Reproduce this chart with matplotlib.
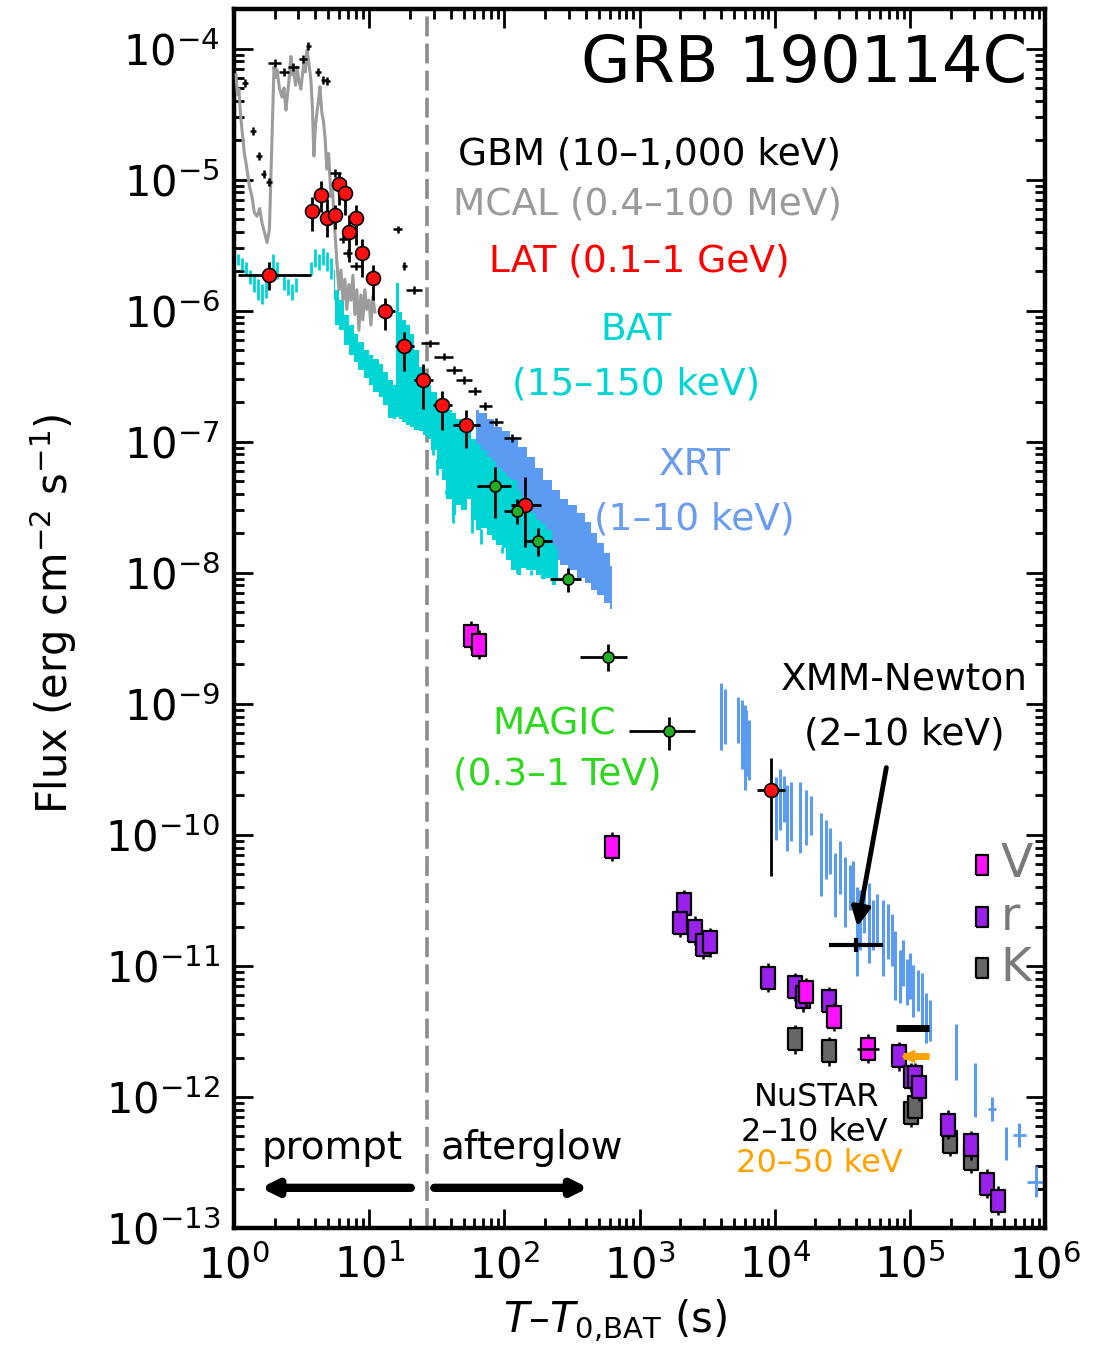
import numpy as np
import matplotlib.pyplot as plt
from matplotlib.ticker import LogLocator

# all values are log10(t / s) and log10(flux / erg cm^-2 s^-1)

# GBM (10-1000 keV)
gbm_lt = [0.08, 0.14, 0.185, 0.22, 0.26, 0.30, 0.37, 0.44, 0.51, 0.55, 0.62, 0.66, 0.69, 0.75,
          0.81, 0.84, 0.90, 1.21, 1.26, 1.33, 1.45, 1.55, 1.63, 1.70, 1.78, 1.86, 1.94, 2.06]
gbm_lf = [-4.26, -4.63, -4.82, -4.96, -5.02, -4.11, -4.18, -4.14, -4.08, -3.98, -4.18, -4.24, -4.25, -4.95,
          -5.45, -5.56, -5.66, -5.38, -5.66, -5.84, -6.25, -6.35, -6.45, -6.53, -6.61, -6.73, -6.85, -6.97]
gbm_dx = [0.02, 0.02, 0.025, 0.02, 0.02, 0.045, 0.04, 0.04, 0.03, 0.02, 0.02, 0.02, 0.02, 0.04,
          0.03, 0.03, 0.04, 0.03, 0.02, 0.06, 0.07, 0.07, 0.06, 0.06, 0.05, 0.05, 0.05, 0.06]

# MCAL (0.4-100 MeV)
mcal_lt = [0.015, 0.025, 0.037, 0.048, 0.059, 0.077, 0.096, 0.114, 0.133, 0.150, 0.170, 0.190, 0.207,
           0.225, 0.244, 0.262, 0.296, 0.307, 0.318, 0.336, 0.355, 0.370, 0.384, 0.396, 0.407,
           0.421, 0.432, 0.443, 0.455, 0.466, 0.480, 0.495, 0.506, 0.517, 0.528, 0.540, 0.555, 0.569,
           0.580, 0.591, 0.602, 0.613, 0.625, 0.636, 0.650, 0.661, 0.673, 0.687, 0.700,
           0.717, 0.728, 0.739, 0.750, 0.761, 0.776, 0.791, 0.806, 0.820, 0.835, 0.850, 0.865, 0.880,
           0.894, 0.909, 0.924, 0.939, 0.953, 0.968, 0.983, 0.998, 1.013, 1.027, 1.042]
mcal_lf = [-4.20, -4.35, -4.31, -4.50, -4.62, -4.80, -4.92, -5.05, -5.13, -5.25, -5.28, -5.22, -5.33,
           -5.40, -5.48, -5.38, -4.14, -4.22, -4.16, -4.30, -4.37, -4.30, -4.47, -4.35, -4.24,
           -4.06, -4.20, -4.18, -4.28, -4.14, -4.25, -4.31, -4.20, -4.11, -4.18, -4.01, -4.12, -4.24,
           -4.45, -4.82, -4.60, -4.49, -4.40, -4.29, -4.49, -4.55, -4.67, -4.92, -4.80,
           -5.13, -5.05, -5.28, -5.45, -5.63, -5.84, -5.69, -5.92, -5.76, -5.99, -5.80, -5.92, -5.73,
           -6.03, -5.84, -6.15, -5.88, -6.07, -5.84, -5.99, -5.92, -6.11, -5.89, -6.01]

# BAT (15-150 keV): sparse early bins, then the dense band
bat0_lt = [0.03, 0.06, 0.09, 0.12, 0.15, 0.18, 0.21, 0.24, 0.26, 0.29, 0.32, 0.37, 0.40, 0.43,
           0.46, 0.57, 0.60, 0.63, 0.66, 0.69, 0.72]
bat0_hi = [-5.57, -5.60, -5.63, -5.69, -5.73, -5.76, -5.80, -5.73, -5.63, -5.57, -5.63, -5.73, -5.76,
           -5.80, -5.75, -5.63, -5.53, -5.57, -5.52, -5.55, -5.60]
bat0_lo = [-5.65, -5.69, -5.73, -5.80, -5.86, -5.92, -5.95, -5.90, -5.80, -5.69, -5.76, -5.84, -5.88,
           -5.92, -5.86, -5.73, -5.67, -5.69, -5.65, -5.70, -5.76]

bat_lt = [0.74, 0.76, 0.79, 0.83, 0.87, 0.90, 0.94, 0.98, 1.01, 1.05, 1.09, 1.12, 1.16, 1.19, 1.21,
          1.23, 1.26, 1.29, 1.32, 1.35, 1.38, 1.41, 1.44, 1.48, 1.52, 1.55, 1.59, 1.63, 1.66, 1.70,
          1.74, 1.77, 1.81, 1.85, 1.89, 1.92, 1.96, 2.00, 2.03, 2.07, 2.11, 2.14, 2.18, 2.22, 2.25,
          2.29, 2.33, 2.37, 2.40]
bat_hi = [-5.69, -5.84, -5.92, -6.03, -6.11, -6.18, -6.24, -6.30, -6.34, -6.37, -6.41, -6.47, -6.53,
          -6.57, -5.79, -6.01, -6.07, -6.11, -6.18, -6.30, -6.43, -6.51, -6.57, -6.62, -6.68, -6.72,
          -6.76, -6.78, -6.83, -6.87, -6.92, -6.98, -7.02, -7.06, -7.12, -7.15, -7.20, -7.23, -7.27,
          -7.29, -7.37, -7.42, -7.48, -7.54, -7.60, -7.63, -7.67, -7.79, -7.82]
bat_lo = [-5.92, -6.11, -6.15, -6.26, -6.34, -6.39, -6.45, -6.51, -6.57, -6.62, -6.66, -6.72, -6.82,
          -6.83, -6.81, -6.83, -6.85, -6.87, -6.89, -6.91, -6.92, -6.95, -6.98, -7.06, -7.21, -7.29,
          -7.44, -7.56, -7.48, -7.52, -7.44, -7.60, -7.67, -7.66, -7.71, -7.75, -7.79, -7.81, -7.90,
          -7.98, -8.02, -7.96, -7.98, -7.98, -8.02, -8.05, -8.04, -8.09, -8.05]
# single bins hanging below the BAT band
bats_lt = [1.47, 1.50, 1.57, 1.62, 1.76, 1.83, 1.98, 2.09, 2.20]
bats_lo = [-7.10, -7.25, -7.40, -7.62, -7.70, -7.78, -7.85, -7.92, -8.02]

# XRT (1-10 keV): early band and late bins
xrt_lt = [1.79, 1.84, 1.90, 1.95, 2.01, 2.07, 2.13, 2.20, 2.25, 2.32, 2.38, 2.44, 2.50, 2.57, 2.62,
          2.66, 2.71, 2.76, 2.80]
xrt_hi = [-6.76, -6.78, -6.83, -6.89, -6.92, -6.96, -7.04, -7.12, -7.20, -7.29, -7.37, -7.44, -7.48,
          -7.54, -7.61, -7.70, -7.77, -7.85, -7.95]
xrt_lo = [-7.21, -7.29, -7.37, -7.44, -7.52, -7.60, -7.67, -7.75, -7.81, -7.86, -7.90, -7.94, -7.98,
          -8.04, -8.08, -8.13, -8.17, -8.23, -8.28]

xrtl_lt = [3.60, 3.63, 3.73, 3.76, 3.78, 3.79, 3.81, 4.01, 4.04, 4.07, 4.09, 4.12, 4.19, 4.23, 4.27,
           4.34, 4.38, 4.41, 4.45, 4.48, 4.52, 4.56, 4.58, 4.61, 4.63, 4.66, 4.70, 4.73, 4.76, 4.80,
           4.84, 4.87, 4.89, 4.93, 4.95, 4.98, 5.00, 5.02, 5.06, 5.09, 5.12, 5.15, 5.34, 5.48,
           5.61, 5.71, 5.81, 5.93]
xrtl_hi = [-8.84, -8.89, -8.95, -8.97, -9.01, -9.05, -9.12, -9.56, -9.50, -9.55, -9.62, -9.60, -9.60,
           -9.66, -9.70, -9.83, -9.89, -9.95, -10.14, -10.05, -10.17, -10.23, -10.20, -10.40, -10.42,
           -10.35, -10.37, -10.50, -10.45, -10.50, -10.53, -10.60, -10.73, -10.88, -10.80, -10.95,
           -10.90, -10.99, -11.03, -11.05, -11.21, -11.26, -11.44, -11.74, -12.00, -12.23, -12.20,
           -12.53]
xrtl_lo = [-9.35, -9.31, -9.30, -9.50, -9.66, -9.55, -9.58, -10.04, -9.96, -9.90, -10.12, -10.05,
           -10.14, -10.08, -10.00, -10.47, -10.34, -10.30, -10.63, -10.45, -10.70, -10.57, -10.55,
           -11.08, -10.88, -10.75, -10.98, -10.88, -10.85, -11.08, -10.95, -11.00, -11.26, -11.28,
           -11.15, -11.30, -11.25, -11.39, -11.34, -11.45, -11.59, -11.57, -11.87, -12.15, -12.18,
           -12.48, -12.38, -12.76]
xrtc_lt = [5.61, 5.81, 5.93]
xrtc_lf = [-12.09, -12.29, -12.65]
xrtc_dx = [0.03, 0.05, 0.06]

# LAT (0.1-1 GeV)
lat_lt = [0.26, 0.58, 0.64, 0.69, 0.75, 0.78, 0.82, 0.85, 0.90, 0.95, 1.03, 1.12, 1.26, 1.40, 1.54,
          1.72, 2.15, 3.97]
lat_lf = [-5.73, -5.24, -5.12, -5.29, -5.27, -5.03, -5.10, -5.40, -5.29, -5.56, -5.75, -6.00, -6.27,
          -6.53, -6.72, -6.87, -7.48, -9.66]
lat_xlo = [0.23, 0.02, 0.02, 0.02, 0.02, 0.02, 0.02, 0.02, 0.02, 0.02, 0.02, 0.04, 0.07, 0.07, 0.07,
           0.10, 0.10, 0.10]
lat_xhi = [0.31, 0.02, 0.02, 0.02, 0.02, 0.02, 0.02, 0.02, 0.02, 0.02, 0.02, 0.07, 0.07, 0.07, 0.07,
           0.10, 0.12, 0.11]
lat_yhi = [0.10, 0.11, 0.11, 0.14, 0.08, 0.09, 0.10, 0.13, 0.10, 0.11, 0.10, 0.10, 0.11, 0.12, 0.11,
           0.11, 0.21, 0.25]
lat_ylo = [0.11, 0.15, 0.13, 0.15, 0.11, 0.16, 0.17, 0.23, 0.21, 0.18, 0.17, 0.15, 0.19, 0.22, 0.19,
           0.18, 0.32, 0.65]

# MAGIC (0.3-1 TeV)
magic_lt = [1.93, 2.09, 2.25, 2.47, 2.77, 3.22]
magic_lf = [-7.34, -7.53, -7.76, -8.05, -8.64, -9.21]
magic_xlo = [0.13, 0.09, 0.09, 0.13, 0.21, 0.30]
magic_xhi = [0.12, 0.05, 0.10, 0.10, 0.14, 0.19]
magic_yhi = [0.15, 0.09, 0.10, 0.09, 0.10, 0.11]
magic_ylo = [0.24, 0.10, 0.11, 0.10, 0.11, 0.14]

# optical / NIR
v_lt = [1.75, 1.81, 2.80, 4.23, 4.44, 4.69]
v_lf = [-8.48, -8.55, -10.09, -11.20, -11.39, -11.63]
r_lt = [3.33, 3.30, 3.41, 3.47, 3.52, 3.95, 4.15, 4.21, 4.40, 4.92, 5.01, 5.04, 5.07, 5.28, 5.45,
        5.57, 5.65]
r_lf = [-10.53, -10.67, -10.73, -10.84, -10.82, -11.09, -11.16, -11.24, -11.27, -11.69, -11.85,
        -11.85, -11.92, -12.21, -12.37, -12.66, -12.79]
k_lt = [4.15, 4.40, 5.01, 5.04, 5.30, 5.45]
k_lf = [-11.56, -11.65, -12.12, -12.08, -12.34, -12.47]

# XMM-Newton and NuSTAR
xmm_lt, xmm_lf, xmm_dx = 4.60, -10.84, 0.20
nus_lt, nus_lf, nus_dx = 5.02, -11.47, 0.12
nuh_lt, nuh_lf, nuh_dx = 5.045, -11.69, 0.095
t_split = 27.0

c_bat = '#00d5d5'
c_xrt = '#5b9cf2'
c_mcal = '#9c9c9c'
c_magic = '#2ed81e'
c_v, c_r, c_k = '#ff10ff', '#9a20ec', '#666666'
c_orange = '#ffa200'


def p(a):
    return 10 ** np.asarray(a, dtype=float)


def asym(l, lo, hi):
    v = p(l)
    return [v - p(np.asarray(l) - np.asarray(lo)), p(np.asarray(l) + np.asarray(hi)) - v]


fig = plt.figure(figsize=(11.09, 13.63), dpi=100)
ax = fig.add_axes([0.2110, 0.0990, 0.7313, 0.8943])
ax.set_xscale('log')
ax.set_yscale('log')

# XRT band below the BAT band
ax.fill_between(p(xrt_lt), p(xrt_lo), p(xrt_hi), step='mid', color=c_xrt, lw=0, zorder=2)
ax.vlines(p(xrtl_lt), p(xrtl_lo), p(xrtl_hi), color=c_xrt, lw=2.2, zorder=2)
ax.errorbar(p(xrtc_lt), p(xrtc_lf), xerr=asym(xrtc_lt, xrtc_dx, xrtc_dx), fmt='none',
            ecolor=c_xrt, elinewidth=2, zorder=2)

# BAT
ax.vlines(p(bat0_lt), p(bat0_lo), p(bat0_hi), color=c_bat, lw=2, zorder=3)
ax.fill_between(p(bat_lt), p(bat_lo), p(bat_hi), step='mid', color=c_bat, lw=0, zorder=3)
ax.vlines(p(bats_lt), p(np.interp(bats_lt, bat_lt, bat_lo)), p(bats_lo), color=c_bat, lw=2, zorder=3)

# MCAL
ax.plot(p(mcal_lt), p(mcal_lf), color=c_mcal, lw=2.2, zorder=4)

# GBM
gbm_dy = [0.03] * len(gbm_lt)
ax.errorbar(p(gbm_lt), p(gbm_lf), xerr=asym(gbm_lt, gbm_dx, gbm_dx),
            yerr=asym(gbm_lf, gbm_dy, gbm_dy), fmt='none', ecolor='black', elinewidth=1.8, zorder=5)

# optical markers: tall rectangles
rect = [(-0.62, -1), (0.62, -1), (0.62, 1), (-0.62, 1), (-0.62, -1)]
for lt, lf, col in [(k_lt, k_lf, c_k), (r_lt, r_lf, c_r), (v_lt, v_lf, c_v)]:
    dy = [0.11] * len(lt)
    ax.errorbar(p(lt), p(lf), yerr=asym(lf, dy, dy), fmt='none', ecolor='black', elinewidth=1.8, zorder=6)
    ax.plot(p(lt), p(lf), ls='none', marker=rect, ms=16, mfc=col, mec='black', mew=1.6, zorder=6)
ax.errorbar(p(v_lt[-1]), p(v_lf[-1]), xerr=asym([v_lt[-1]], [0.08], [0.08]), fmt='none',
            ecolor='black', elinewidth=1.8, zorder=6)

# XMM and NuSTAR
ax.errorbar(p(xmm_lt), p(xmm_lf), xerr=asym([xmm_lt], [xmm_dx], [xmm_dx]),
            yerr=asym([xmm_lf], [0.05], [0.05]), fmt='none', ecolor='black', elinewidth=3, zorder=7)
ax.errorbar(p(nus_lt), p(nus_lf), xerr=asym([nus_lt], [nus_dx], [nus_dx]), fmt='none',
            ecolor='black', elinewidth=5, zorder=7)
ax.errorbar(p(nuh_lt), p(nuh_lf), xerr=asym([nuh_lt], [nuh_dx], [nuh_dx]), fmt='none',
            ecolor=c_orange, elinewidth=5, zorder=7)
ax.plot(p(nuh_lt - 0.06), p(nuh_lf), marker='<', ms=9, color=c_orange, zorder=7)

# LAT and MAGIC
ax.errorbar(p(lat_lt), p(lat_lf), xerr=asym(lat_lt, lat_xlo, lat_xhi),
            yerr=asym(lat_lf, lat_ylo, lat_yhi), fmt='o', ms=10, mfc='#ff1010', mec='black', mew=1.2,
            ecolor='black', elinewidth=2, zorder=8)
ax.errorbar(p(magic_lt), p(magic_lf), xerr=asym(magic_lt, magic_xlo, magic_xhi),
            yerr=asym(magic_lf, magic_ylo, magic_yhi), fmt='o', ms=8, mfc='#22b022', mec='black',
            mew=1.2, ecolor='black', elinewidth=2, zorder=8)

# prompt / afterglow separation
ax.axvline(t_split, color='#8c8c8c', lw=2.6, ls=(0, (5.5, 2)), zorder=1)

ax.set_xlim(1, 1e6)
ax.set_ylim(1e-13, 2e-4)
ax.xaxis.set_major_locator(LogLocator(base=10, numticks=20))
ax.yaxis.set_major_locator(LogLocator(base=10, numticks=20))
ax.xaxis.set_minor_locator(LogLocator(base=10, subs=np.arange(2, 10), numticks=100))
ax.yaxis.set_minor_locator(LogLocator(base=10, subs=np.arange(2, 10), numticks=100))
ax.tick_params(which='both', direction='in', top=True, right=True, width=2, labelsize=30)
ax.tick_params(which='major', length=14)
ax.tick_params(which='minor', length=7)
ax.tick_params(axis='x', pad=12)
ax.tick_params(axis='y', pad=10)
for s in ax.spines.values():
    s.set_linewidth(3.2)

fig.text(0.048, 0.550, r'Flux (erg cm$^{-2}$ s$^{-1}$)', rotation=90, ha='center', va='center', fontsize=30)
fig.text(0.555, 0.031, r'$T$–$T_{0{,}\mathrm{BAT}}$ (s)', ha='center', va='center', fontsize=30)

tr = ax.transAxes
ax.text(0.978, 0.955, 'GRB 190114C', transform=tr, ha='right', va='center', fontsize=46)
ax.text(0.512, 0.881, 'GBM (10–1,000 keV)', transform=tr, ha='center', va='center', fontsize=27)
ax.text(0.510, 0.840, 'MCAL (0.4–100 MeV)', transform=tr, ha='center', va='center', fontsize=27,
        color='#9a9a9a')
ax.text(0.500, 0.793, 'LAT (0.1–1 GeV)', transform=tr, ha='center', va='center', fontsize=27,
        color='#ff0000')
ax.text(0.496, 0.737, 'BAT', transform=tr, ha='center', va='center', fontsize=27, color=c_bat)
ax.text(0.496, 0.692, '(15–150 keV)', transform=tr, ha='center', va='center', fontsize=27, color=c_bat)
ax.text(0.568, 0.626, 'XRT', transform=tr, ha='center', va='center', fontsize=27, color='#6a9cf0')
ax.text(0.568, 0.581, '(1–10 keV)', transform=tr, ha='center', va='center', fontsize=27, color='#6a9cf0')
ax.text(0.395, 0.413, 'MAGIC', transform=tr, ha='center', va='center', fontsize=27, color=c_magic)
ax.text(0.399, 0.372, '(0.3–1 TeV)', transform=tr, ha='center', va='center', fontsize=27, color=c_magic)
ax.text(0.827, 0.450, 'XMM-Newton', transform=tr, ha='center', va='center', fontsize=27)
ax.text(0.827, 0.405, '(2–10 keV)', transform=tr, ha='center', va='center', fontsize=27)
ax.annotate('', xy=(0.768, 0.245), xytext=(0.805, 0.380), xycoords=tr, textcoords=tr,
            arrowprops=dict(arrowstyle='-|>', lw=3.5, color='black', mutation_scale=28))

# band legend
for yy, lab, col in [(0.298, 'V', c_v), (0.255, 'r', c_r), (0.213, 'K', c_k)]:
    ax.plot([0.922], [yy], transform=tr, ls='none', marker=rect, ms=15, mfc=col, mec='black', mew=1.6,
            clip_on=False, zorder=9)
    ax.text(0.945, yy, lab, transform=tr, ha='left', va='center', fontsize=34, color='#7a7a7a')

ax.text(0.719, 0.107, 'NuSTAR', transform=tr, ha='center', va='center', fontsize=23)
ax.text(0.715, 0.078, '2–10 keV', transform=tr, ha='center', va='center', fontsize=23)
ax.text(0.722, 0.053, '20–50 keV', transform=tr, ha='center', va='center', fontsize=23, color=c_orange)

ax.text(0.121, 0.066, 'prompt', transform=tr, ha='center', va='center', fontsize=28)
ax.text(0.367, 0.066, 'afterglow', transform=tr, ha='center', va='center', fontsize=28)
ax.annotate('', xy=(0.033, 0.033), xytext=(0.218, 0.033), xycoords=tr, textcoords=tr,
            arrowprops=dict(arrowstyle='-|>', lw=6, color='black', mutation_scale=22, shrinkA=0, shrinkB=0))
ax.annotate('', xy=(0.437, 0.033), xytext=(0.247, 0.033), xycoords=tr, textcoords=tr,
            arrowprops=dict(arrowstyle='-|>', lw=6, color='black', mutation_scale=22, shrinkA=0, shrinkB=0))

fig.savefig('out.png', dpi=100)
